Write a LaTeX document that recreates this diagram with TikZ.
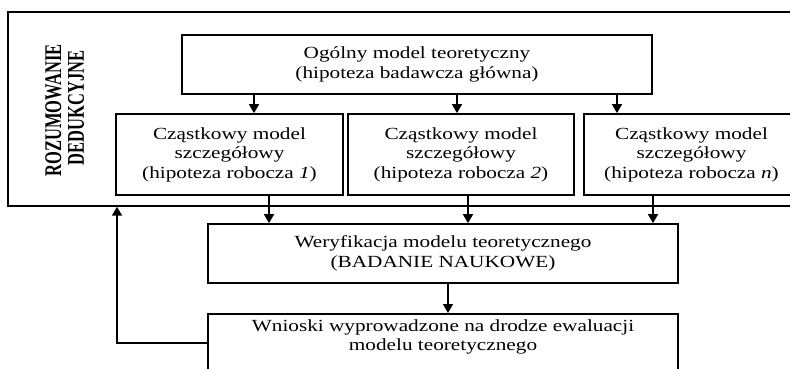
\documentclass[tikz,border=0pt]{standalone}
\usepackage{fontspec}
\setmainfont[FakeStretch=1.25]{Liberation Serif}
\newfontfamily\plainserif{Liberation Serif}
\usetikzlibrary{arrows.meta}
\tikzset{
  box/.style={draw, line width=1.7pt, rectangle, inner sep=0pt},
  frm/.style={draw, line width=1.4pt, rectangle, inner sep=0pt},
  txt/.style={align=center, font=\fontsize{17}{19.5}\selectfont, inner sep=0pt},
  vtxt/.style={rotate=90, inner sep=0pt, font=\plainserif\bfseries\fontsize{16.5}{18}\selectfont},
  arr/.style={line width=1.5pt, -{Triangle[width=10pt,length=9pt]}},
}
\begin{document}
\begin{tikzpicture}[x=1pt,y=-1pt]
\useasboundingbox (0,0) rectangle (790,369);
\clip (0,0) rectangle (790,369);
% outer frame
\node[frm, minimum width=812pt, minimum height=194pt] (frame) at (414,109) {};
\node[vtxt] (roz) at (53.5,110.5) {\scalebox{1}[1.45]{ROZUMOWANIE}};
\node[vtxt] (ded) at (76,108) {\scalebox{1}[1.45]{DEDUKCYJNE}};
% top
\node[box, txt, minimum width=470pt, minimum height=59pt] (top) at (417,64.5)
  {Ogólny model teoretyczny\\(hipoteza badawcza główna)};
% sub boxes
\node[box, txt, minimum width=227pt, minimum height=81pt] (b1) at (229.5,154.5)
  {Cząstkowy model\\szczegółowy\\(hipoteza robocza \textit{1})};
\node[box, txt, minimum width=226pt, minimum height=81pt] (b2) at (461,154.5)
  {Cząstkowy model\\szczegółowy\\(hipoteza robocza \textit{2})};
\node[box, txt, minimum width=215pt, minimum height=81pt] (b3) at (691.5,154.5)
  {Cząstkowy model\\szczegółowy\\(hipoteza robocza \textit{n})};
% verification
\node[box, txt, minimum width=470pt, minimum height=59pt] (wer) at (443,253.5)
  {Weryfikacja modelu teoretycznego\\(BADANIE NAUKOWE)};
% conclusions
\node[box, minimum width=470pt, minimum height=70pt, anchor=north] (wn) at (443,313) {};
\node[txt] (wnt) at (443,337)
  {Wnioski wyprowadzone na drodze ewaluacji\\modelu teoretycznego};
% arrow positions
\coordinate (a1) at (254,0);
\coordinate (a2) at (457,0);
\coordinate (a3) at (617,0);
\coordinate (c1) at (269,0);
\coordinate (c2) at (468,0);
\coordinate (c3) at (653,0);
\coordinate (d1) at (448,0);
\coordinate (fb) at (117,343);
\draw[arr] (top.south -| a1) -- (b1.north -| a1);
\draw[arr] (top.south -| a2) -- (b2.north -| a2);
\draw[arr] (top.south -| a3) -- (b3.north -| a3);
\draw[arr] (b1.south -| c1) -- (wer.north -| c1);
\draw[arr] (b2.south -| c2) -- (wer.north -| c2);
\draw[arr] (b3.south -| c3) -- (wer.north -| c3);
\draw[arr] (wer.south -| d1) -- (wn.north -| d1);
\draw[arr] (wn.west |- fb) -- (fb) -- (frame.south -| fb);
\end{tikzpicture}
\end{document}
